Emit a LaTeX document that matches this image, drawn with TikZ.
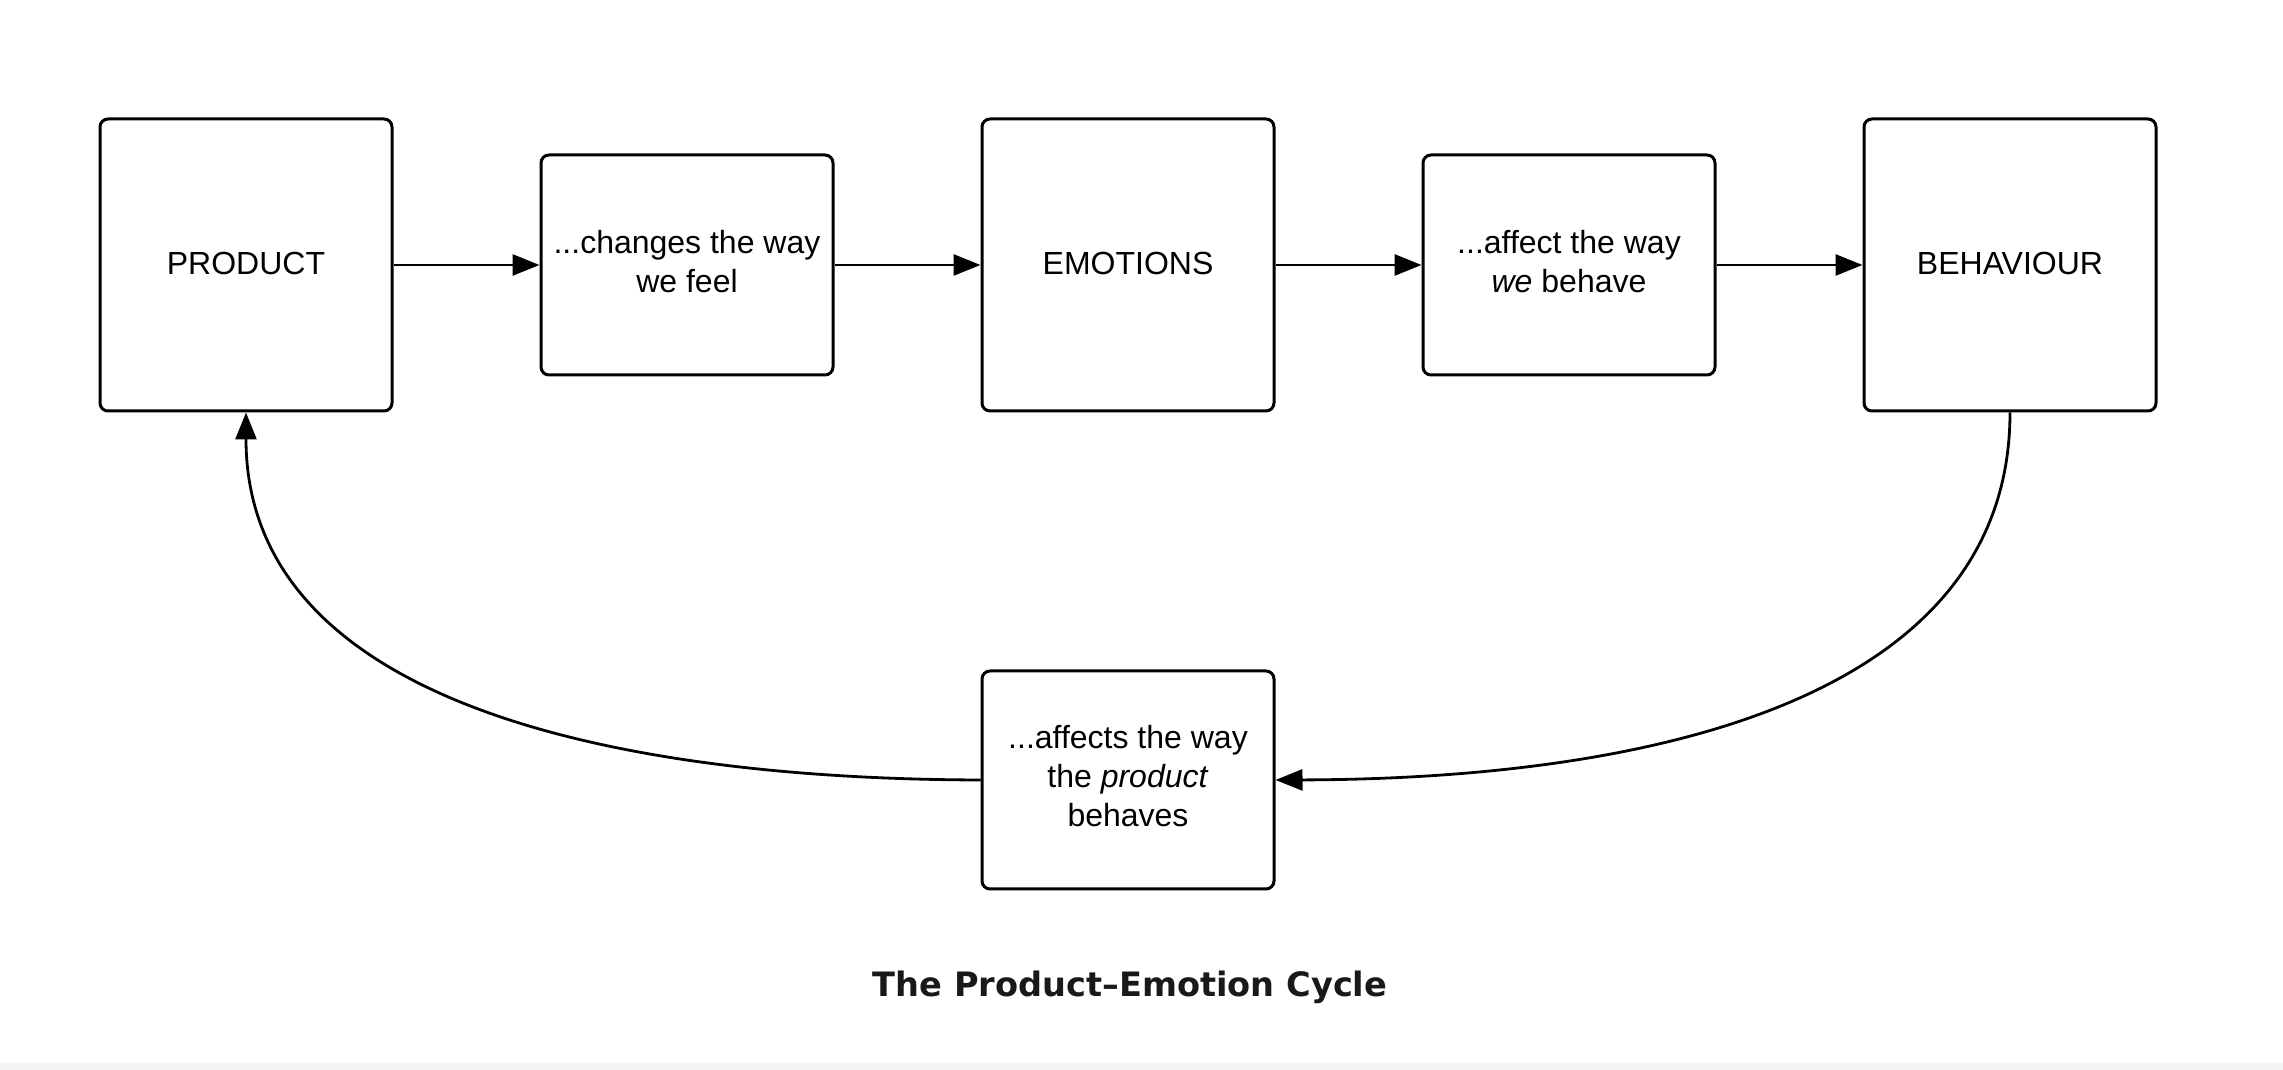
\documentclass[tikz,border=0pt]{standalone}
\usepackage{fontspec}
\setmainfont{Liberation Sans}
\newfontfamily\titlefont{DejaVu Sans}
\usepackage{tikz}
\usetikzlibrary{arrows.meta}

\begin{document}
\begin{tikzpicture}[
      stage/.style={draw=black, line width=1.5pt, rounded corners=4pt, inner sep=0pt,
        minimum width=146pt, minimum height=146pt, align=center,
        font=\fontsize{16}{19.5}\selectfont},
      small/.style={stage, minimum height=110pt},
      arrow/.style={-{Triangle[length=13.5pt, width=10.5pt]}, line width=1.4pt},
      x=0.5pt, y=0.5pt
    ]
    \useasboundingbox (0,0) rectangle (2283,1070);
    \fill[white] (0,0) rectangle (2283,1070);
    \fill[black!4] (0,0) rectangle (2283,7);

    \node[stage] (prod) at (246,805) {\raisebox{1.5pt}{PRODUCT}};
    \node[small] (chg) at (687,805) {\raisebox{2.5pt}{\begin{tabular}{@{}c@{}}...changes the way\\we feel\end{tabular}}};
    \node[stage] (emo) at (1128,805) {\raisebox{1.5pt}{EMOTIONS}};
    \node[small] (aff) at (1569,805) {\raisebox{2.5pt}{\begin{tabular}{@{}c@{}}...affect the way\\\textit{we} behave\end{tabular}}};
    \node[stage] (beh) at (2010,805) {\raisebox{1.5pt}{BEHAVIOUR}};
    \node[small, minimum height=109pt] (back) at (1128,290) {\raisebox{5pt}{\begin{tabular}{@{}c@{}}...affects the way\\the \textit{product}\\behaves\end{tabular}}};

    \draw[arrow] (prod) -- (chg);
    \draw[arrow] (chg) -- (emo);
    \draw[arrow] (emo) -- (aff);
    \draw[arrow] (aff) -- (beh);
    \draw[arrow] (beh.south) .. controls (2010,370) and (1650,291) .. (back.east);
    \draw[arrow] (back.west) .. controls (606,291) and (246,370) .. (prod.south);

    \node[anchor=base, text=black!90, font=\titlefont\bfseries\fontsize{16.8}{20}\selectfont] (title) at (1130,73) {The Product–Emotion Cycle};
  \end{tikzpicture}
\end{document}
